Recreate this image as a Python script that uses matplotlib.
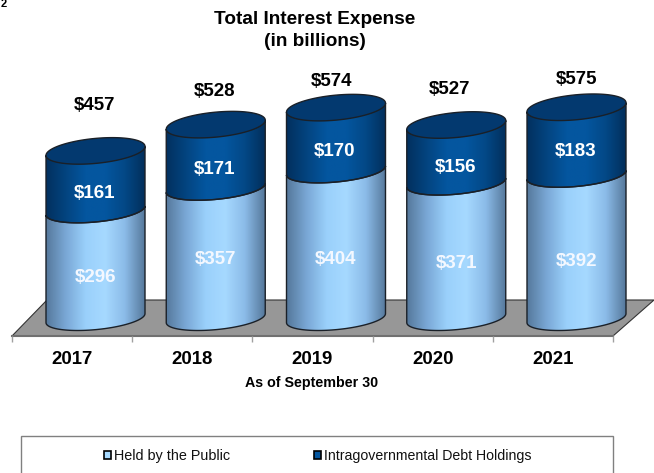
import numpy as np
import matplotlib
matplotlib.use('Agg')
import matplotlib.pyplot as plt
from matplotlib.colors import LinearSegmentedColormap
from matplotlib.patches import Polygon, Rectangle

plt.rcParams['font.family'] = ['Liberation Sans', 'DejaVu Sans']

years = ['2017', '2018', '2019', '2020', '2021']
public = [296, 357, 404, 371, 392]
intragov = [161, 171, 170, 156, 183]
totals = [457, 528, 574, 527, 575]

# layout, in pixels of the 654x473 page
W, H = 654, 473
X0, DX = 95.5, 120.25    # centre of the first cylinder, spacing
Y0, K = 320.0, 0.37      # baseline, pixels per billion
BASE = 5                 # cylinders sit slightly back on the floor
A, B, TILT = 49.5, 11.5, 4.5   # cylinder half width, ellipse half height, tilt
TICK0, TICK_DX = 12, 120.2
total_y = [105, 91, 82, 89, 79]
total_x = [95, 215, 332, 450, 577]
public_y = [277, 259, 259, 263, 261]
intragov_y = [193, 169, 152, 167, 152]

fig = plt.figure(figsize=(W / 100, H / 100), dpi=100)

# page axes for the floor, frame and text
page = fig.add_axes([0, 0, 1, 1])
page.set_xlim(0, W)
page.set_ylim(H, 0)
page.axis('off')

# data axes laid over the page: x = category index, y = billions
ax = fig.add_axes([0, 0, 1, 1], facecolor='none')
ax.set_xlim(-X0 / DX, (W - X0) / DX)
ax.set_ylim((Y0 - H) / K, Y0 / K)
ax.axis('off')

public_cmap = LinearSegmentedColormap.from_list('pub', ['#56799c', '#7aa8d6', '#9ad0fb', '#a6d9ff', '#8bbbe8', '#56799c'])
intragov_cmap = LinearSegmentedColormap.from_list('gov', ['#02305f', '#034480', '#04569f', '#04569f', '#034886', '#022f5c'])
CAP = '#03396f'
EDGE = '#1a2028'

half_w = A / DX
t = np.linspace(0, np.pi, 60)
ell_x = half_w * np.cos(t)


def front_arc(v):
    return v - (B / K) * np.sin(t) + (TILT / K) * np.cos(t)


def segment(i, low, high, cmap):
    """ One stacked cylinder section with a horizontal gradient. """
    xs = np.concatenate([i + ell_x, i + ell_x[::-1]])
    vs = np.concatenate([front_arc(low), front_arc(high)[::-1]])
    poly = Polygon(np.column_stack([xs, vs]), closed=True, facecolor='none', edgecolor=EDGE, lw=1.0, zorder=3)
    ax.add_patch(poly)
    grad = np.linspace(0, 1, 128).reshape(1, -1)
    pad = 40
    im = ax.imshow(grad, cmap=cmap, aspect='auto', zorder=2,
                   extent=(i - half_w, i + half_w, low - pad, high + pad))
    im.set_clip_path(poly)


# floor and tick marks
page.add_patch(Polygon([(12, 336), (613, 336), (654, 300), (47, 300)], closed=True,
                       facecolor='#979797', edgecolor='#333333', lw=0.8, zorder=1))
page.plot([12, 613], [336, 336], color='#707070', lw=1.5, zorder=1)
page.vlines(TICK0 + TICK_DX * np.arange(6), 336, 342, color='#a0a0a0', lw=1.0, zorder=1)

for i in range(len(years)):
    segment(i, BASE, public[i], public_cmap)
    segment(i, public[i], totals[i], intragov_cmap)
    # top cap
    tt = np.linspace(0, 2 * np.pi, 120)
    cap_x = i + half_w * np.cos(tt)
    cap_v = totals[i] - (B + 1) / K * np.sin(tt) + TILT / K * np.cos(tt)
    ax.fill(cap_x, cap_v, facecolor=CAP, edgecolor=EDGE, lw=1.0, zorder=4)

    page.text(TICK0 + TICK_DX * (i + 0.5), 359, years[i], ha='center', va='center',
              fontsize=13.4, fontweight='bold', color='black')
    page.text(total_x[i], total_y[i], f'${totals[i]}', ha='center', va='center',
              fontsize=13.5, fontweight='bold', color='black')

# series labels go on the data axes so they stay above the cylinders
for i in range(len(years)):
    ax.text(i, (Y0 - public_y[i]) / K, f'${public[i]}', ha='center', va='center',
            fontsize=13.5, fontweight='bold', color='#f4f8ff', zorder=6)
    ax.text(i - 0.01, (Y0 - intragov_y[i]) / K, f'${intragov[i]}', ha='center', va='center',
            fontsize=13.5, fontweight='bold', color='white', zorder=6)

page.text(0.5, 4, '2', ha='left', va='center', fontsize=8, fontweight='bold')
page.text(315, 19, 'Total Interest Expense', ha='center', va='center', fontsize=13.7, fontweight='bold')
page.text(315, 41, '(in billions)', ha='center', va='center', fontsize=13.7, fontweight='bold')
page.text(312, 383, 'As of September 30', ha='center', va='center', fontsize=10.3, fontweight='bold')

# legend frame runs off the bottom of the page
page.add_patch(Rectangle((20.5, 435.5), 592, 60, facecolor='white', edgecolor='#808080', lw=1.0, zorder=1))
for mx, color, label, size in [(103.5, '#a6d9ff', 'Held by the Public', 10.4),
                               (313.5, '#04569f', 'Intragovernmental Debt Holdings', 10.2)]:
    page.add_patch(Rectangle((mx, 451), 7.5, 7.5, facecolor=color, edgecolor='black', lw=1.2, zorder=2))
    page.text(mx + 10.5, 455.5, label, ha='left', va='center', fontsize=size, color='#111111')

fig.savefig('out.png', dpi=100)
